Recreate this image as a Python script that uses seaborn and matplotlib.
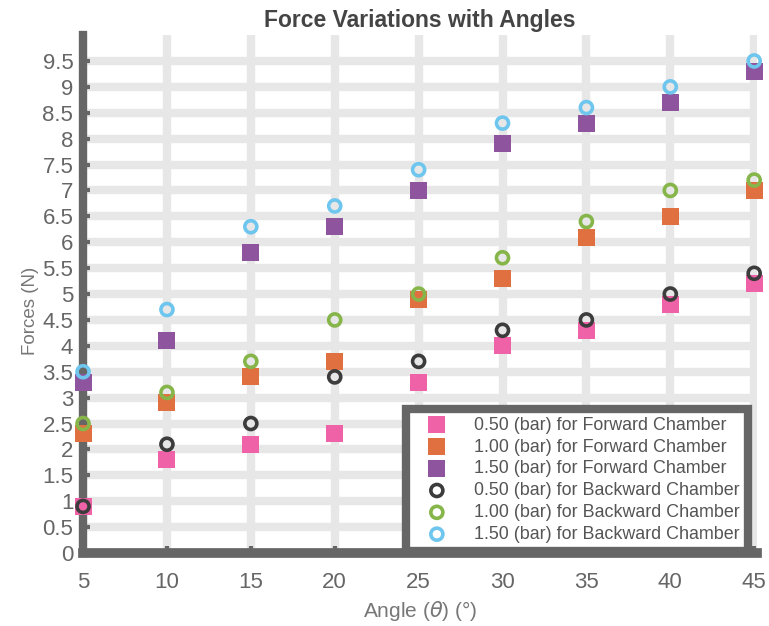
import matplotlib
matplotlib.use("Agg")
import matplotlib.pyplot as plt
import seaborn as sns
import pandas as pd
import numpy as np

angles = [5, 10, 15, 20, 25, 30, 35, 40, 45]
fwd_050 = [0.9, 1.8, 2.1, 2.3, 3.3, 4.0, 4.3, 4.8, 5.2]
fwd_100 = [2.3, 2.9, 3.4, 3.7, 4.9, 5.3, 6.1, 6.5, 7.0]
fwd_150 = [3.3, 4.1, 5.8, 6.3, 7.0, 7.9, 8.3, 8.7, 9.3]
bwd_050 = [0.9, 2.1, 2.5, 3.4, 3.7, 4.3, 4.5, 5.0, 5.4]
bwd_100 = [2.5, 3.1, 3.7, 4.5, 5.0, 5.7, 6.4, 7.0, 7.2]
bwd_150 = [3.5, 4.7, 6.3, 6.7, 7.4, 8.3, 8.6, 9.0, 9.5]

labels = ["0.50 (bar) for Forward Chamber", "1.00 (bar) for Forward Chamber",
          "1.50 (bar) for Forward Chamber", "0.50 (bar) for Backward Chamber",
          "1.00 (bar) for Backward Chamber", "1.50 (bar) for Backward Chamber"]
colors = ["#f062a8", "#e07040", "#8e559e", "#3c3c3c", "#86b54a", "#6ec6ef"]
series = [fwd_050, fwd_100, fwd_150, bwd_050, bwd_100, bwd_150]
yticks = np.arange(0, 10, 0.5)
ytick_labels = ["0", "0.5", "1", "1.5", "2", "2.5", "3", "3.5", "4", "4.5", "5",
                "5.5", "6", "6.5", "7", "7.5", "8", "8.5", "9", "9.5"]

sns.set_theme(style="white")
plt.rcParams["font.family"] = ["Liberation Sans", "DejaVu Sans"]

fig = plt.figure(figsize=(7.69, 6.26), dpi=100)
ax = fig.add_axes([0.108, 0.1166, 0.876, 0.8274])

grid_c = "#e7e7e7"
for i, (lab, vals, c) in enumerate(zip(labels, series, colors)):
    df = pd.DataFrame({"Angle": angles, "Force": vals})
    if i < 3:
        sns.scatterplot(data=df, x="Angle", y="Force", ax=ax, marker="s", s=150,
                        color=c, edgecolor="none", label=lab, zorder=3 + i, clip_on=False)
    else:
        sns.scatterplot(data=df, x="Angle", y="Force", ax=ax, marker="o", s=75,
                        facecolor="none", edgecolor=c, linewidth=2.6, label=lab,
                        zorder=6 + i, clip_on=False)

ax.set_xlim(5, 45.15)
ax.set_ylim(0, 10)
ax.set_xticks(angles)
ax.set_yticks(yticks)
ax.set_yticklabels(ytick_labels)
ax.set_axisbelow(True)
ax.grid(True, color=grid_c, linewidth=6)

for s in ["top", "right"]:
    ax.spines[s].set_visible(False)
ax.spines["left"].set_color("#666666")
ax.spines["left"].set_linewidth(6)
ax.spines["bottom"].set_color("#666666")
ax.spines["bottom"].set_linewidth(7)
for s in ["left", "bottom"]:
    ax.spines[s].set_zorder(2.5)

ax.tick_params(axis="both", direction="in", length=5, width=3, color="#666666",
               labelsize=16, labelcolor="#666666")
ax.tick_params(axis="y", left=True, pad=7)
ax.tick_params(axis="x", bottom=True, pad=14)

ax.set_title("Force Variations with Angles", fontsize=16.5, fontweight="bold",
             color="#444444", pad=6)
ax.set_xlabel(r"Angle ($\theta$) (°)", fontsize=15, color="#777777", labelpad=4)
ax.set_ylabel("Forces (N)", fontsize=13.5, color="#777777")
ax.yaxis.set_label_coords(-0.066, 0.467)

leg = ax.legend(loc="lower right", bbox_to_anchor=(0.9866, 0.004), fontsize=12.9,
                frameon=True, fancybox=False, borderpad=0.45, labelspacing=0.27,
                handletextpad=0.78, handlelength=2.57, borderaxespad=0.0)
frame = leg.get_frame()
frame.set_edgecolor("#666666")
frame.set_linewidth(6)
frame.set_facecolor("white")
frame.set_alpha(1)
for t in leg.get_texts():
    t.set_color("#555555")
leg.set_zorder(20)

fig.savefig("out.png", dpi=100)
